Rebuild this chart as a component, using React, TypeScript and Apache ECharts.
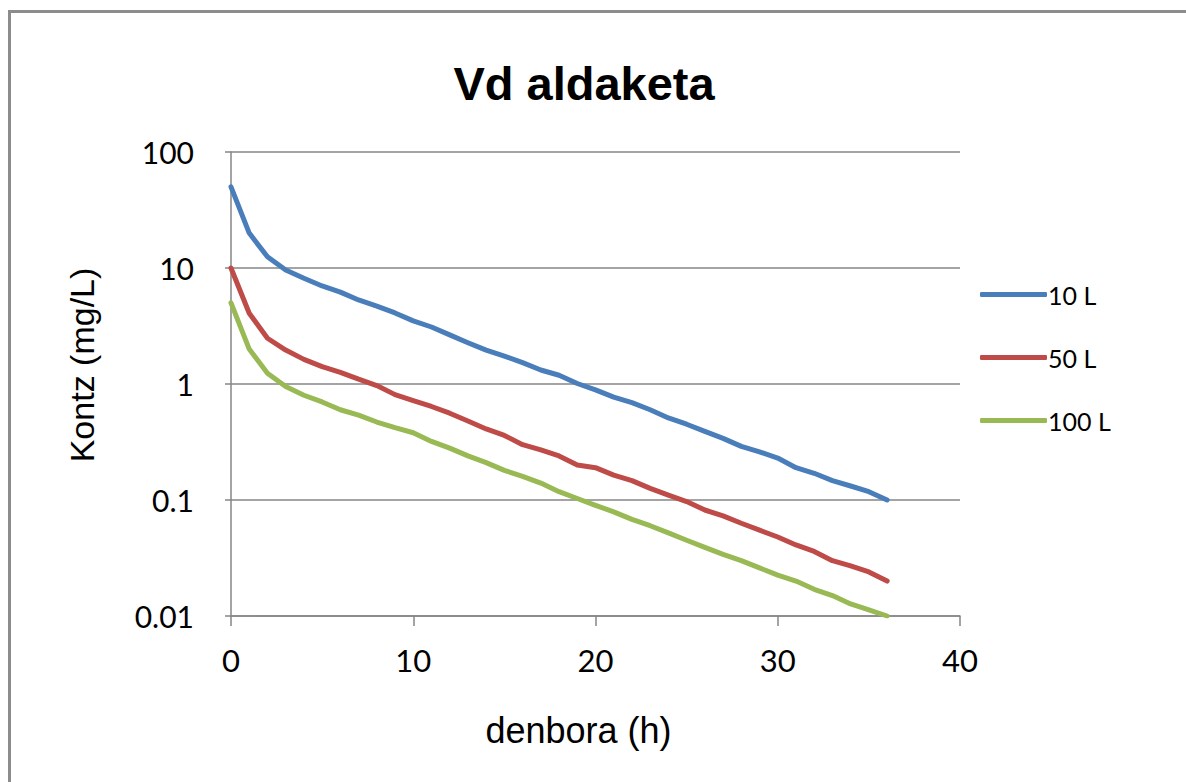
import React, { useEffect, useRef } from "react";
import * as echarts from "echarts";

const hours = [0,1,2,3,4,5,6,7,8,9,10,11,12,13,14,15,16,17,18,19,20,21,22,23,24,25,26,27,28,29,30,31,32,33,34,35,36];

const seriesNames = ["10 L", "50 L", "100 L"];

const vd10 = [50, 20, 12.5, 9.6, 8.15, 7.0, 6.2, 5.3, 4.7, 4.1, 3.5, 3.1, 2.65, 2.27, 1.96, 1.74, 1.53, 1.32, 1.19, 1.01, 0.89, 0.77, 0.69, 0.6, 0.51, 0.45, 0.39, 0.34, 0.29, 0.26, 0.23, 0.19, 0.17, 0.147, 0.132, 0.118, 0.1];
const vd50 = [10, 4.07, 2.48, 1.96, 1.63, 1.41, 1.26, 1.1, 0.97, 0.81, 0.72, 0.64, 0.56, 0.48, 0.41, 0.36, 0.3, 0.27, 0.24, 0.2, 0.19, 0.164, 0.147, 0.126, 0.11, 0.097, 0.082, 0.073, 0.063, 0.055, 0.048, 0.041, 0.036, 0.03, 0.027, 0.024, 0.02];
const vd100 = [5, 2.0, 1.24, 0.95, 0.8, 0.7, 0.6, 0.54, 0.47, 0.42, 0.38, 0.32, 0.28, 0.24, 0.21, 0.18, 0.16, 0.14, 0.118, 0.103, 0.09, 0.079, 0.068, 0.06, 0.052, 0.045, 0.039, 0.034, 0.03, 0.026, 0.0225, 0.02, 0.017, 0.015, 0.0127, 0.0113, 0.01];

const colors = ["#4a7ebb", "#be4b48", "#98b954"];

const title = "Vd aldaketa";
const xName = "denbora (h)";
const yName = "Kontz (mg/L)";

export default function App() {
  const ref = useRef<HTMLDivElement>(null);
  useEffect(() => {
    document.body.style.margin = "0";
    const chart = echarts.init(ref.current!, null, { renderer: "svg" });
    const values = [vd10, vd50, vd100];
    chart.setOption({
      animation: false,
      backgroundColor: "#ffffff",
      title: {
        text: title,
        left: 579,
        top: 55,
        textAlign: "center",
        textStyle: { fontFamily: "Liberation Sans, Arial", fontWeight: "bold", fontSize: 47, color: "#000" },
      },
      graphic: [
        {
          type: "polyline",
          shape: { points: [[9.5, 900], [9.5, 11.5], [1300, 11.5]] },
          style: { fill: "none", stroke: "#8c8c8c", lineWidth: 3 },
          silent: true,
        },
      ],
      legend: {
        orient: "vertical",
        left: 980,
        top: 282,
        itemWidth: 67,
        itemHeight: 5,
        itemGap: 38,
        icon: "roundRect",
        padding: 0,
        data: seriesNames,
        textStyle: { fontFamily: "Lato", fontSize: 25, color: "#000", padding: [0, 0, 0, -4] },
      },
      grid: { left: 231, top: 152, right: 226, bottom: 166, containLabel: false },
      xAxis: {
        type: "value",
        min: 0,
        max: 40,
        interval: 10,
        name: xName,
        nameLocation: "middle",
        nameGap: 96,
        nameTextStyle: { fontFamily: "Liberation Sans, Arial", fontSize: 36, color: "#000", padding: [0, 34, 0, 0] },
        axisLine: { lineStyle: { color: "#868686", width: 1.5 } },
        axisTick: { show: true, length: 10, lineStyle: { color: "#868686", width: 1.5 } },
        axisLabel: { margin: 28, fontFamily: "Lato", fontSize: 31, color: "#000" },
        splitLine: { show: false },
      },
      yAxis: {
        type: "log",
        logBase: 10,
        min: 0.01,
        max: 100,
        name: yName,
        nameLocation: "middle",
        nameRotate: 90,
        nameGap: 132,
        nameTextStyle: { fontFamily: "Liberation Sans, Arial", fontSize: 34, color: "#000", padding: [0, 0, 0, 38] },
        axisLine: { show: true, lineStyle: { color: "#868686", width: 1.5 } },
        axisTick: { show: true, length: 6, lineStyle: { color: "#868686", width: 1.5 } },
        axisLabel: {
          margin: 37,
          fontFamily: "Lato",
          fontSize: 30,
          color: "#000",
          formatter: (v: number) => String(parseFloat(Number(v).toPrecision(6))),
        },
        splitLine: { show: true, lineStyle: { color: "#868686", width: 1.5 } },
      },
      series: seriesNames.map((name, i) => ({
        name,
        type: "line",
        data: hours.map((h, j) => [h, values[i][j]]),
        showSymbol: false,
        symbol: "none",
        lineStyle: { color: colors[i], width: 5, cap: "round", join: "round" },
        itemStyle: { color: colors[i] },
      })),
    });
    return () => chart.dispose();
  }, []);
  return <div ref={ref} style={{ width: 1186, height: 782 }} />;
}
